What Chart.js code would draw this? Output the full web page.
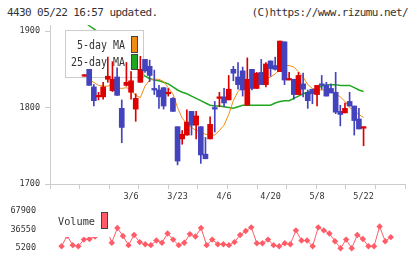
<!DOCTYPE html>
<html>
<head>
<meta charset="utf-8">
<script src="https://cdn.jsdelivr.net/npm/chart.js@4/dist/chart.umd.min.js"></script>
<style>
body { margin: 0; background: #fff; width: 420px; height: 259px; overflow: hidden; position: relative; font-family: "DejaVu Sans Mono", monospace; }
.t { position: absolute; top: 6px; font-size: 11px; letter-spacing: -0.6px; color: #333; white-space: nowrap; line-height: 14px; }
canvas { position: absolute; left: 0; }
</style>
</head>
<body>
<div class="t" style="left:7px">4430 05/22 16:57 updated.</div>
<div class="t" style="right:12px">(C)https://www.rizumu.net/</div>
<canvas id="priceChart" width="420" height="203" style="top:0"></canvas>
<canvas id="volChart" width="420" height="59" style="top:200px"></canvas>
<script>
var dates = ['2/20','2/21','2/25','2/26','2/27','2/28','3/2','3/3','3/4','3/5',
  '3/6','3/9','3/10','3/11','3/12','3/13','3/16','3/17','3/18','3/19',
  '3/23','3/24','3/25','3/26','3/27','3/30','3/31','4/1','4/2','4/3',
  '4/6','4/7','4/8','4/9','4/10','4/13','4/14','4/15','4/16','4/17',
  '4/20','4/21','4/22','4/23','4/24','4/27','4/28','4/30','5/1','5/7',
  '5/8','5/11','5/12','5/13','5/14','5/15','5/18','5/19','5/20','5/21','5/22'];

var opens = [1841,1850,1827,1814,1814,1837,1822,1840,1799,1829,
  1820,1798,1833,1863,1854,1825,1823,1826,1818,1812,
  1775,1759,1764,1795,1777,1775,1739,1759,1800,1812,
  1814,1810,1850,1840,1848,1803,1850,1825,1846,1830,
  1861,1855,1847,1886,1836,1837,1817,1831,1820,1824,
  1817,1831,1829,1825,1820,1795,1793,1808,1802,1785,1773];
var highs = [1843,1850,1830,1820,1833,1866,1860,1852,1810,1859,
  1847,1818,1867,1863,1862,1849,1829,1826,1825,1813,
  1775,1770,1797,1795,1795,1775,1761,1788,1808,1820,
  1825,1842,1854,1859,1853,1865,1850,1846,1863,1859,
  1861,1866,1887,1886,1846,1837,1846,1845,1823,1824,
  1829,1842,1833,1831,1846,1803,1806,1820,1802,1799,1775];
var lows = [1841,1829,1802,1810,1811,1833,1821,1816,1754,1828,
  1811,1782,1833,1846,1834,1817,1799,1798,1815,1795,
  1725,1752,1764,1764,1759,1727,1733,1759,1768,1801,
  1801,1810,1835,1824,1815,1803,1823,1825,1830,1827,
  1841,1849,1847,1830,1836,1811,1817,1814,1799,1805,
  1802,1824,1815,1819,1792,1776,1793,1802,1764,1772,1750];
var closes = [1843,1829,1809,1816,1827,1841,1837,1816,1774,1833,
  1835,1812,1850,1848,1842,1823,1814,1802,1820,1795,
  1730,1765,1781,1777,1789,1738,1733,1778,1798,1814,
  1806,1824,1845,1830,1823,1837,1825,1845,1830,1857,
  1851,1850,1887,1836,1838,1817,1842,1824,1809,1818,
  1829,1829,1815,1819,1794,1791,1799,1802,1783,1772,1775];

var ma5 = [null,1836,1833,1829,1828,1828,1830,1826,1825,1826,
  1823,1816,1813,1828,1836,1837,1837,1834,1826,1818,
  1800,1786,1779,1774,1770,1768,1765,1764,1764,1770,
  1777,1791,1809,1821,1828,1832,1833,1833,1834,1837,
  1840,1844,1850,1855,1855,1853,1847,1840,1830,1825,
  1824,1823,1823,1822,1818,1814,1808,1800,1796,1791,1787];
var ma25 = [1912,1907,1903,1898,1893,1888,1882,1876,1870,1864,
  1858,1852,1847,1841,1838,1836,1835,1833,1831,1827,
  1823,1820,1818,1815,1812,1809,1806,1803,1802,1802,
  1801,1800,1799,1801,1803,1803,1803,1803,1803,1803,
  1803,1806,1808,1809,1809,1812,1815,1818,1820,1823,
  1825,1828,1830,1830,1830,1829,1829,1829,1826,1823,1821];

var volume = [null,7900,26000,9900,7900,19300,20400,24500,45000,40000,
  14100,39200,25600,9900,27100,15100,11500,9900,17700,14100,
  29800,19300,9900,14100,28700,24500,39200,9900,19300,11500,
  11500,9900,15100,27100,33900,40200,13000,13000,19300,9900,
  7900,13000,11500,35000,17700,17700,7900,40200,35000,29800,
  16600,4700,19300,4700,27100,20400,7900,7900,41700,16600,23500];

var dateTicks = [10, 20, 30, 40, 50, 60];
var priceTicks = [1700, 1800, 1900];
var volTicks = [5200, 36550, 67900];

var upColor = '#dd0000';
var downColor = '#4343bd';
var ma5Color = '#f08c14';
var ma25Color = '#1fa81f';
var volColor = '#ff5c68';
var axisColor = '#cccccc';
var textColor = '#333333';
var monoFont = '"DejaVu Sans Mono", monospace';

function points(arr) {
    return arr.map(function (v, i) { return { x: i, y: v }; });
}

function plainTick(v) {
    return String(v);
}

var bodies = opens.map(function (o, i) { return { x: i, y: [o, closes[i]] }; });
var wicks = lows.map(function (l, i) { return { x: i, y: [l, highs[i]] }; });
var candleColors = opens.map(function (o, i) { return closes[i] >= o ? upColor : downColor; });

// legend box sits above the MA lines but under the candles
var priceLegend = {
    id: 'priceLegend',
    beforeDatasetDraw: function (chart, args) {
        if (args.index !== 0) return;
        var ctx = chart.ctx;
        ctx.save();
        ctx.fillStyle = '#fff';
        ctx.fillRect(65.5, 30.5, 78, 47);
        ctx.strokeStyle = axisColor;
        ctx.lineWidth = 1;
        ctx.strokeRect(65.5, 30.5, 78, 47);
        ctx.fillStyle = ma5Color;
        ctx.fillRect(131, 36, 7, 17);
        ctx.fillStyle = ma25Color;
        ctx.fillRect(131, 54, 7, 16);
        ctx.strokeStyle = '#444';
        ctx.strokeRect(131.5, 36.5, 6, 16);
        ctx.strokeRect(131.5, 54.5, 6, 15);
        ctx.fillStyle = textColor;
        ctx.font = '12px ' + monoFont;
        ctx.textAlign = 'right';
        ctx.textBaseline = 'middle';
        ctx.fillText('5-day MA', 125, 46, 48);
        ctx.fillText('25-day MA', 125, 63, 54);
        ctx.restore();
    }
};

var volLegend = {
    id: 'volLegend',
    afterDatasetsDraw: function (chart) {
        var ctx = chart.ctx;
        ctx.save();
        ctx.fillStyle = '#fff';
        ctx.fillRect(57, 10, 54, 27);
        ctx.fillStyle = volColor;
        ctx.fillRect(101.5, 12.5, 6, 16);
        ctx.strokeStyle = '#444';
        ctx.lineWidth = 1;
        ctx.strokeRect(101.5, 12.5, 6, 16);
        ctx.fillStyle = textColor;
        ctx.font = '11px ' + monoFont;
        ctx.textAlign = 'left';
        ctx.textBaseline = 'middle';
        ctx.fillText('Volume', 58, 22.5, 37);
        ctx.restore();
    }
};

new Chart(document.getElementById('priceChart'), {
    type: 'bar',
    data: {
        datasets: [{
            type: 'bar',
            data: wicks,
            backgroundColor: candleColors,
            barThickness: 1,
            grouped: false,
            order: 2
        }, {
            type: 'bar',
            data: bodies,
            backgroundColor: candleColors,
            barThickness: 5,
            grouped: false,
            order: 1
        }, {
            type: 'line',
            data: points(ma5),
            borderColor: ma5Color,
            borderWidth: 1,
            pointRadius: 0,
            order: 3
        }, {
            type: 'line',
            data: points(ma25),
            borderColor: ma25Color,
            borderWidth: 1.5,
            pointRadius: 0,
            order: 4
        }]
    },
    options: {
        responsive: false,
        animation: false,
        devicePixelRatio: 1,
        layout: { padding: { top: 25, right: 15, left: 0, bottom: 0 } },
        plugins: { legend: { display: false }, tooltip: { enabled: false } },
        scales: {
            x: {
                type: 'linear', min: -1.07, max: 62.55, position: 'bottom', weight: 1,
                grid: { display: false, drawTicks: false },
                border: { display: false },
                afterBuildTicks: function (s) { s.ticks = dateTicks.map(function (v) { return { value: v }; }); },
                afterFit: function (s) { s.height = 14; },
                ticks: {
                    padding: 3, color: textColor, maxRotation: 0, autoSkip: false,
                    font: { family: monoFont, size: 8.5 },
                    callback: function (v) { return dates[v]; }
                }
            },
            xt: {
                type: 'linear', min: 0, max: 11, position: 'bottom', weight: 0,
                grid: { drawOnChartArea: false, tickLength: 5, color: axisColor },
                border: { display: true, color: axisColor },
                ticks: { display: false, stepSize: 1 },
                afterFit: function (s) { s.height = 5; }
            },
            y: {
                min: 1700, max: 1908,
                afterBuildTicks: function (s) { s.ticks = priceTicks.map(function (v) { return { value: v }; }); },
                afterFit: function (s) { s.width = 50; },
                grid: { drawOnChartArea: false, tickLength: 5, color: axisColor },
                border: { color: axisColor },
                ticks: { padding: 5, color: textColor, font: { family: monoFont, size: 8.5 }, callback: plainTick }
            }
        }
    },
    plugins: [priceLegend]
});

new Chart(document.getElementById('volChart'), {
    type: 'line',
    data: {
        datasets: [{
            data: points(volume),
            borderColor: volColor,
            backgroundColor: volColor,
            borderWidth: 1,
            pointStyle: 'rectRot',
            pointRadius: 3.2,
            pointBorderWidth: 0,
            clip: false
        }]
    },
    options: {
        responsive: false,
        animation: false,
        devicePixelRatio: 1,
        layout: { padding: { top: 9, bottom: 10, right: 15, left: 0 } },
        plugins: { legend: { display: false }, tooltip: { enabled: false } },
        scales: {
            x: { type: 'linear', min: -1.07, max: 62.55, display: false },
            y: {
                min: 5200, max: 67900,
                afterBuildTicks: function (s) { s.ticks = volTicks.map(function (v) { return { value: v }; }); },
                afterFit: function (s) { s.width = 50; },
                grid: { display: false },
                border: { display: false },
                ticks: { padding: 6, color: textColor, font: { family: monoFont, size: 8.5 }, callback: plainTick }
            }
        }
    },
    plugins: [volLegend]
});
</script>
</body>
</html>
